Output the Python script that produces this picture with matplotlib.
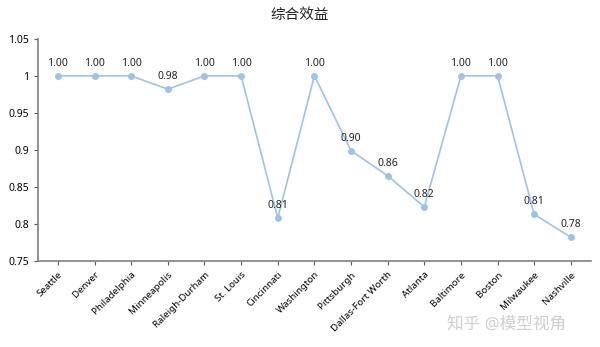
import numpy as np
import matplotlib
matplotlib.use("Agg")
import matplotlib.pyplot as plt
from matplotlib.ticker import FuncFormatter

plt.rcParams['font.family'] = ['Noto Sans', 'Noto Sans CJK SC', 'DejaVu Sans']

# data
cities = ["Seattle", "Denver", "Philadelphia", "Minneapolis", "Raleigh-Durham",
          "St. Louis", "Cincinnati", "Washington", "Pittsburgh", "Dallas-Fort Worth",
          "Atlanta", "Baltimore", "Boston", "Milwaukee", "Nashville"]
efficiency = [1.00, 1.00, 1.00, 0.982, 1.00, 1.00, 0.808, 1.00, 0.899, 0.865,
              0.823, 1.00, 1.00, 0.813, 0.782]
title = "综合效益"
watermark = "知乎 @模型视角"

fig = plt.figure(figsize=(6, 3.47), dpi=100)
ax = fig.add_axes([0.063, 0.248, 0.922, 0.64])

x = np.arange(len(cities))
ax.plot(x, efficiency, color="#9DC3E6", lw=1.2, marker="o", ms=4,
        markerfacecolor="#9DC3E6", markeredgecolor="#9DC3E6")
for xi, v in zip(x, efficiency):
    ax.annotate(f"{v:.2f}", (xi, v), xytext=(0, 5), textcoords="offset points",
                ha="center", va="bottom", fontsize=7.5, color="#222222")

ax.set_xlim(-0.55, len(cities) - 0.45)
ax.set_ylim(0.75, 1.05)
ax.set_yticks([0.75, 0.8, 0.85, 0.9, 0.95, 1.0, 1.05])
ax.yaxis.set_major_formatter(FuncFormatter(lambda v, p: f"{v:.2f}".rstrip("0").rstrip(".")))
ax.set_xticks(x)
ax.set_xticklabels(cities, rotation=45, ha="right", rotation_mode="anchor", fontsize=7)
ax.tick_params(axis="y", labelsize=7.5, length=3, color="#595959")
ax.tick_params(axis="x", length=3, color="#595959")

for s in ["top", "right"]:
    ax.spines[s].set_visible(False)
for s in ["left", "bottom"]:
    ax.spines[s].set_color("#7f7f7f")
    ax.spines[s].set_linewidth(1.2)

fig.text(0.5, 0.955, title, ha="center", va="center", fontsize=10.5, color="#222222")
fig.text(0.845, 0.065, watermark, ha="center", va="center", fontsize=12, color="#cfcfcf")

fig.savefig("out.png", dpi=100)
